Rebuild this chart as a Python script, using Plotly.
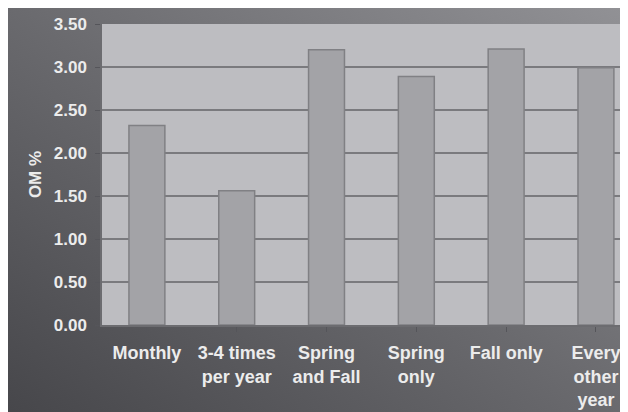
import base64
import plotly.graph_objects as go

# OM % by application timing
categories = ["Monthly", "3-4 times<br>per year", "Spring<br>and Fall",
              "Spring<br>only", "Fall only", "Every<br>other<br>year"]
om_pct = [2.32, 1.56, 3.20, 2.89, 3.21, 2.99]
y_ticks = [0, 0.5, 1.0, 1.5, 2.0, 2.5, 3.0, 3.5]

# gradient background (dark lower-left -> lighter upper-right)
svg = """<svg xmlns='http://www.w3.org/2000/svg' width='628' height='412' preserveAspectRatio='none'>
<defs><linearGradient id='g' x1='0' y1='1' x2='1' y2='0'>
<stop offset='0' stop-color='#46464a'/><stop offset='0.5' stop-color='#6a6a6e'/>
<stop offset='1' stop-color='#929296'/></linearGradient></defs>
<rect width='628' height='412' fill='url(#g)'/></svg>"""
bg_src = "data:image/svg+xml;base64," + base64.b64encode(svg.encode()).decode()

fig = go.Figure()
fig.add_trace(go.Bar(x=list(range(len(categories))), y=om_pct,
                     width=0.4,
                     marker=dict(color="#a3a3a7", line=dict(color="#808084", width=1.5))))

# plot area: 526 x 301 px, margins l=94 t=16
fig.add_layout_image(dict(source=bg_src, xref="paper", yref="paper",
                          x=-0.1787, y=1.0532, sizex=1.1939, sizey=1.3688,
                          xanchor="left", yanchor="top", sizing="stretch",
                          layer="below"))
fig.add_shape(type="rect", xref="paper", yref="paper", x0=0, x1=1.02, y0=0, y1=1,
              fillcolor="#bdbdc1", line_width=0, layer="below")

fig.update_layout(
    width=628, height=412,
    margin=dict(l=94, r=8, t=16, b=95),
    paper_bgcolor="#6a6a6e",
    plot_bgcolor="rgba(0,0,0,0)",
    showlegend=False,
    font=dict(family="Liberation Sans", color="#ececec"),
    xaxis=dict(range=[-0.5, 5.357], tickmode="array",
               tickvals=list(range(len(categories))), ticktext=categories,
               tickson="boundaries", ticks="outside", ticklen=5,
               tickcolor="#55555a", showgrid=False, zeroline=False,
               showline=True, linecolor="#6c6c70", linewidth=1.5,
               ticklabelstandoff=6,
               tickfont=dict(size=18, family="Liberation Sans", weight="bold")),
    yaxis=dict(range=[0, 3.5], tickmode="array", tickvals=y_ticks,
               ticktext=[f"{v:.2f}" for v in y_ticks],
               ticks="outside", ticklen=5, tickcolor="#55555a",
               showgrid=True, gridcolor="#7a7a7e", gridwidth=1.5,
               zeroline=False, showline=True, linecolor="#6c6c70",
               linewidth=1.5, ticklabelstandoff=5,
               tickfont=dict(size=17, family="Liberation Sans", weight="bold"),
               title=dict(text="OM %", standoff=8,
                          font=dict(size=17, family="Liberation Sans",
                                    weight="bold"))),
)

fig.write_html("out.html")
